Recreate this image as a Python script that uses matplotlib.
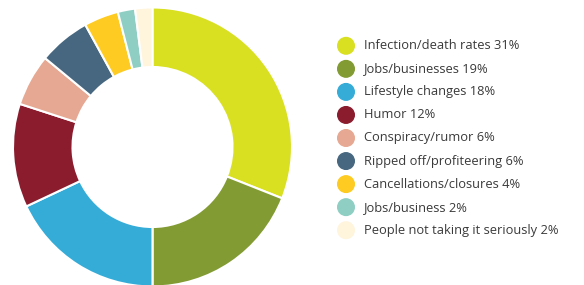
import matplotlib.pyplot as plt
from matplotlib.patches import Circle

# ---- data ----
labels = ["Infection/death rates 31%", "Jobs/businesses 19%", "Lifestyle changes 18%",
          "Humor 12%", "Conspiracy/rumor 6%", "Ripped off/profiteering 6%",
          "Cancellations/closures 4%", "Jobs/business 2%", "People not taking it seriously 2%"]
values = [31, 19, 18, 12, 6, 6, 4, 2, 2]
colors = ["#d9e021", "#829b33", "#35acd8", "#8a1c2e", "#e6a892",
          "#46677f", "#fdcb22", "#8fcfc3", "#fff4dc"]

W, H = 584, 285
fig = plt.figure(figsize=(W / 100, H / 100), dpi=100)

# ---- donut ----
cx, cy, r = 152.5, 147, 139.5
ax = fig.add_axes([(cx - r) / W, (H - cy - r) / H, 2 * r / W, 2 * r / H])
ax.pie(values, colors=colors, startangle=90, counterclock=False, radius=1,
       wedgeprops=dict(width=1 - 80 / 139.5, edgecolor="white", linewidth=1.5))
ax.set_xlim(-1, 1)
ax.set_ylim(-1, 1)
ax.set_aspect("equal")
ax.axis("off")

# ---- legend ----
lax = fig.add_axes([0, 0, 1, 1])
lax.set_xlim(0, W)
lax.set_ylim(H, 0)
lax.axis("off")
y0, dy = 45.8, 23.05
for i, (lab, col) in enumerate(zip(labels, colors)):
    y = y0 + i * dy
    lax.add_patch(Circle((346, y), 8.3, color=col))
    lax.text(364, y, lab, fontsize=9.3, family="Open Sans", color="#3a3a3a",
             va="center", ha="left")

fig.savefig("out.png", dpi=100)
